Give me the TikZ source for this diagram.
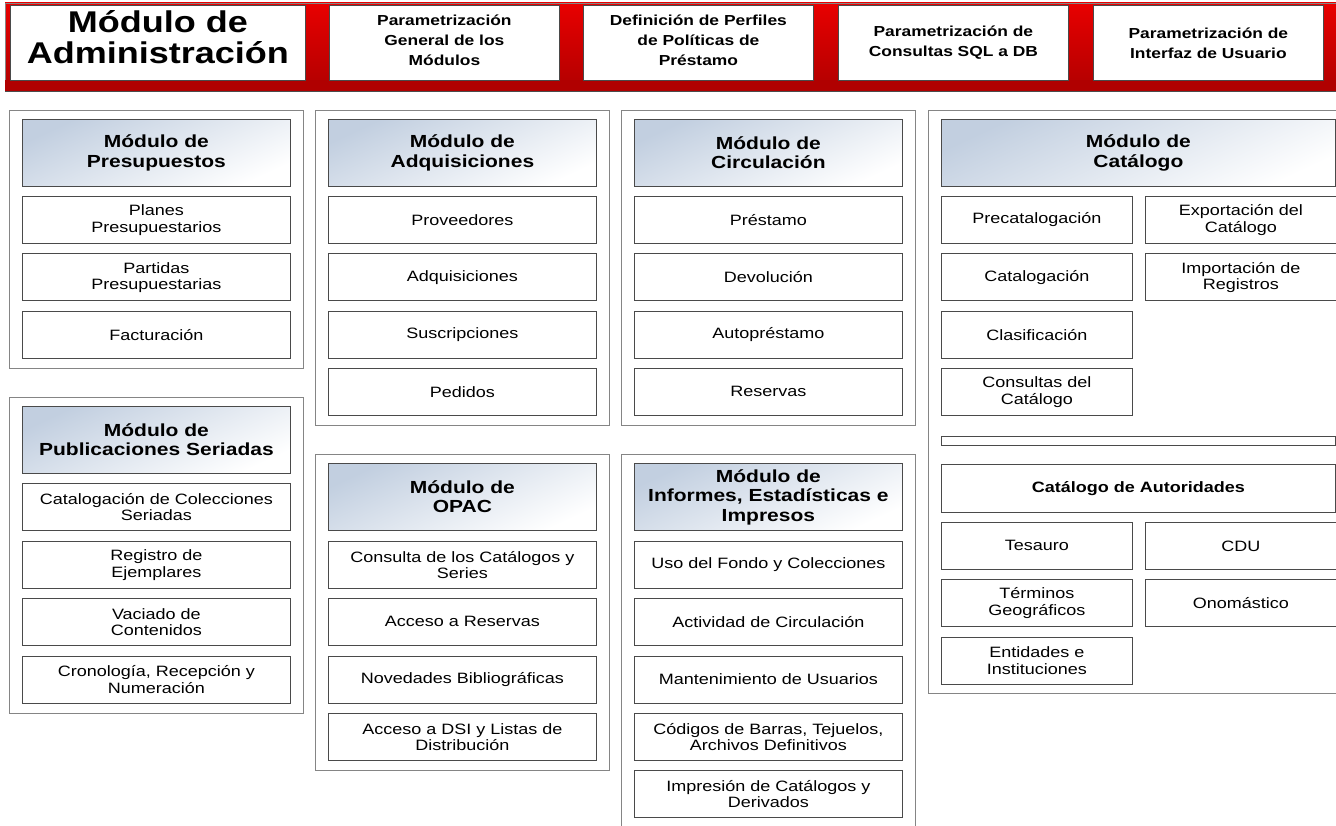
\documentclass[tikz,border=0pt]{standalone}
\usepackage{fontspec}
\setmainfont{Liberation Sans}[FakeStretch=1.2]
\usetikzlibrary{positioning}
\definecolor{rojo}{HTML}{E80000}
\definecolor{rojoosc}{HTML}{B00000}
\definecolor{marco}{HTML}{858585}
\definecolor{borde}{HTML}{4A4A4A}
\definecolor{azulcab}{HTML}{C2CFE0}
\tikzset{
	panel/.style={draw=marco, line width=1pt, anchor=north west, inner sep=0pt, minimum width=294pt, minimum height=#1},
	item/.style={draw=borde, line width=0.8pt, fill=white, anchor=north west, align=center, inner sep=1pt, minimum width=268pt, minimum height=47pt, font=\fontsize{15}{16.5}\selectfont},
	itemc/.style={item, minimum width=191pt},
	cabecera/.style={item, top color=azulcab, bottom color=white, shading angle=25, minimum height=67pt, font=\bfseries\fontsize{17.5}{19.5}\selectfont},
	tope/.style={draw=borde, line width=0.8pt, fill=white, anchor=north west, align=center, inner sep=1pt, minimum width=230pt, minimum height=75pt, font=\bfseries\fontsize{14.5}{20}\selectfont}
}
\begin{document}
\begin{tikzpicture}[x=1pt, y=-1pt]
	\useasboundingbox (0,0) rectangle (1336,826);
	\clip (0,0) rectangle (1336,826);
	\shade[top color=rojo, bottom color=rojoosc, draw=marco] (5,3) rectangle (1345,91);
	\fill[rojoosc] (5,80) rectangle (1345,91);
	\draw[black!70] (5,91) -- (1345,91);
	\node[tope, minimum width=295pt, text depth=12pt, font=\bfseries\fontsize{30}{31}\selectfont] (admin) at (10,5) {Módulo de\\Administración};
	\node[tope, text depth=6pt] (paramgen) at (329,5) {Parametrización\\General de los\\Módulos};
	\node[tope, text depth=6pt] (perfiles) at (583,5) {Definición de Perfiles\\de Políticas de\\Préstamo};
	\node[tope] (sql) at (838,5) {Parametrización de\\Consultas SQL a DB};
	\node[tope] (interfaz) at (1093,5) {Parametrización de\\Interfaz de Usuario};

	\node[panel=258pt] (ppres) at (9,110) {};
	\node[cabecera] (pres) at (22,119) {Módulo de\\Presupuestos};
	\node[item] (pres1) at (22,196) {Planes\\Presupuestarios};
	\node[item] (pres2) at (22,253.5) {Partidas\\Presupuestarias};
	\node[item] (pres3) at (22,311) {Facturación};

	\node[panel=316pt] (pseri) at (9,397) {};
	\node[cabecera] (seri) at (22,406) {Módulo de\\Publicaciones Seriadas};
	\node[item] (seri1) at (22,483) {Catalogación de Colecciones\\Seriadas};
	\node[item] (seri2) at (22,541) {Registro de\\Ejemplares};
	\node[item] (seri3) at (22,598) {Vaciado de\\Contenidos};
	\node[item] (seri4) at (22,655.5) {Cronología, Recepción y\\Numeración};

	\node[panel=315pt] (padq) at (315,110) {};
	\node[cabecera] (adq) at (328,119) {Módulo de\\Adquisiciones};
	\node[item] (adq1) at (328,196) {Proveedores};
	\node[item] (adq2) at (328,253.5) {Adquisiciones};
	\node[item] (adq3) at (328,311) {Suscripciones};
	\node[item] (adq4) at (328,368) {Pedidos};

	\node[panel=316pt] (popac) at (315,454) {};
	\node[cabecera] (opac) at (328,463) {Módulo de\\OPAC};
	\node[item] (opac1) at (328,541) {Consulta de los Catálogos y\\Series};
	\node[item] (opac2) at (328,598) {Acceso a Reservas};
	\node[item] (opac3) at (328,655.5) {Novedades Bibliográficas};
	\node[item] (opac4) at (328,713) {Acceso a DSI y Listas de\\Distribución};

	\node[panel=315pt] (pcirc) at (621,110) {};
	\node[cabecera] (circ) at (634,119) {Módulo de\\Circulación};
	\node[item] (circ1) at (634,196) {Préstamo};
	\node[item] (circ2) at (634,253.5) {Devolución};
	\node[item] (circ3) at (634,311) {Autopréstamo};
	\node[item] (circ4) at (634,368) {Reservas};

	\node[panel=390pt] (pinf) at (621,454) {};
	\node[cabecera] (inf) at (634,463) {Módulo de\\Informes, Estadísticas e\\Impresos};
	\node[item] (inf1) at (634,541) {Uso del Fondo y Colecciones};
	\node[item] (inf2) at (634,598) {Actividad de Circulación};
	\node[item] (inf3) at (634,655.5) {Mantenimiento de Usuarios};
	\node[item] (inf4) at (634,713) {Códigos de Barras, Tejuelos,\\Archivos Definitivos};
	\node[item] (inf5) at (634,770) {Impresión de Catálogos y\\Derivados};

	\node[panel=583pt, minimum width=420pt] (pcat) at (928,110) {};
	\node[cabecera, minimum width=394pt] (cat) at (941,119) {Módulo de\\Catálogo};
	\node[itemc] (cat1) at (941,196) {Precatalogación};
	\node[itemc] (cat2) at (941,253.5) {Catalogación};
	\node[itemc] (cat3) at (941,311) {Clasificación};
	\node[itemc] (cat4) at (941,368) {Consultas del\\Catálogo};
	\node[itemc] (cat5) at (1145,196) {Exportación del\\Catálogo};
	\node[itemc] (cat6) at (1145,253.5) {Importación de\\Registros};
	\node[item, minimum width=394pt, minimum height=9pt] (barra) at (941,436) {};
	\node[item, minimum width=394pt, minimum height=48pt, font=\bfseries\fontsize{15}{16.5}\selectfont] (aut) at (941,464) {Catálogo de Autoridades};
	\node[itemc] (aut1) at (941,522) {Tesauro};
	\node[itemc] (aut2) at (941,579) {Términos\\Geográficos};
	\node[itemc] (aut3) at (941,636.5) {Entidades e\\Instituciones};
	\node[itemc] (aut4) at (1145,522) {CDU};
	\node[itemc] (aut5) at (1145,579) {Onomástico};
\end{tikzpicture}
\end{document}
